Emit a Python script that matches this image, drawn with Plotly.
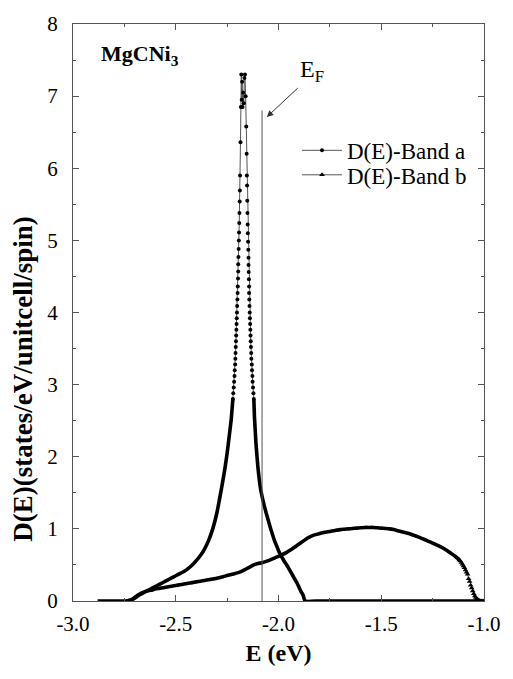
import plotly.graph_objects as go

# Density of states of the two Ni-derived bands of MgCNi3 (energies in eV)
band_a_E = [
    -2.88, -2.86, -2.84, -2.82, -2.80, -2.78, -2.76, -2.74, -2.72, -2.70,
    -2.68, -2.66, -2.64, -2.62, -2.60, -2.58, -2.56, -2.54, -2.52, -2.50,
    -2.48, -2.46, -2.44, -2.42, -2.40, -2.38, -2.36, -2.34, -2.32, -2.30,
    -2.28, -2.27, -2.26, -2.25, -2.24, -2.235, -2.23, -2.226,
    # rising edge of the van Hove peak
    -2.222, -2.220, -2.218, -2.216, -2.214, -2.213, -2.211, -2.210, -2.209,
    -2.208, -2.207, -2.206, -2.205, -2.204, -2.203, -2.202, -2.201, -2.200,
    -2.199, -2.198, -2.197, -2.196, -2.196, -2.195, -2.194, -2.193, -2.192,
    -2.191, -2.190, -2.189, -2.188, -2.187, -2.185, -2.183, -2.181,
    # top of the peak
    -2.179, -2.177, -2.175, -2.172, -2.169, -2.166, -2.163,
    # falling edge of the peak
    -2.160, -2.157, -2.155, -2.154, -2.153, -2.152, -2.151, -2.150, -2.149,
    -2.148, -2.147, -2.146, -2.146, -2.145, -2.144, -2.143, -2.143, -2.142,
    -2.141, -2.140, -2.139, -2.138, -2.137, -2.136, -2.135, -2.134, -2.133,
    -2.132, -2.130, -2.129, -2.127, -2.126, -2.124, -2.122, -2.120,
    # upper tail
    -2.117, -2.113, -2.11, -2.105, -2.10, -2.095, -2.09, -2.08, -2.07,
    -2.06, -2.05, -2.04, -2.03, -2.02, -2.01, -2.00, -1.99, -1.98, -1.97,
    -1.96, -1.95, -1.94, -1.93, -1.92, -1.91, -1.90, -1.89, -1.88, -1.87,
    -1.80, -1.70, -1.60, -1.50, -1.40, -1.30, -1.20, -1.10, -1.00,
]
band_a_D = [
    0.00, 0.00, 0.00, 0.00, 0.00, 0.00, 0.00, 0.00, 0.01, 0.04,
    0.08, 0.11, 0.14, 0.17, 0.20, 0.23, 0.26, 0.29, 0.32, 0.35,
    0.38, 0.41, 0.45, 0.50, 0.56, 0.63, 0.72, 0.84, 1.00, 1.22,
    1.52, 1.68, 1.85, 2.05, 2.28, 2.40, 2.52, 2.66,
    2.80, 2.88, 2.96, 3.04, 3.12, 3.20, 3.28, 3.36, 3.44,
    3.52, 3.60, 3.68, 3.76, 3.84, 3.92, 4.00, 4.09, 4.18,
    4.27, 4.36, 4.47, 4.57, 4.67, 4.77, 4.88, 5.00, 5.11,
    5.24, 5.38, 5.54, 5.69, 5.90, 6.36, 6.85, 7.30,
    6.95, 7.20, 6.85, 7.05, 6.90, 7.25, 7.30,
    7.00, 6.58, 6.20, 5.90, 5.76, 5.55, 5.38, 5.22, 5.10,
    4.98, 4.87, 4.76, 4.66, 4.56, 4.46, 4.36, 4.27, 4.18,
    4.09, 4.00, 3.92, 3.84, 3.76, 3.68, 3.60, 3.52, 3.44,
    3.36, 3.28, 3.20, 3.12, 3.04, 2.96, 2.88, 2.80,
    2.55, 2.35, 2.20, 2.02, 1.85, 1.72, 1.60, 1.45, 1.33,
    1.22, 1.12, 1.02, 0.93, 0.84, 0.77, 0.70, 0.64, 0.59, 0.54,
    0.50, 0.45, 0.40, 0.35, 0.30, 0.25, 0.19, 0.13, 0.08, 0.00,
    0.00, 0.00, 0.00, 0.00, 0.00, 0.00, 0.00, 0.00, 0.00,
]

band_b_E = [
    -2.74, -2.72, -2.70, -2.68, -2.66, -2.64, -2.62, -2.60, -2.58, -2.56,
    -2.54, -2.52, -2.50, -2.48, -2.46, -2.44, -2.42, -2.40, -2.38, -2.36,
    -2.34, -2.32, -2.30, -2.28, -2.26, -2.24, -2.22, -2.20, -2.18, -2.16,
    -2.14, -2.12, -2.10, -2.08, -2.06, -2.04, -2.02, -2.00, -1.98, -1.96,
    -1.94, -1.92, -1.90, -1.88, -1.86, -1.84, -1.82, -1.80, -1.78, -1.76,
    -1.74, -1.72, -1.70, -1.68, -1.66, -1.64, -1.62, -1.60, -1.58, -1.56,
    -1.54, -1.52, -1.50, -1.48, -1.46, -1.44, -1.42, -1.40, -1.38, -1.36,
    -1.34, -1.32, -1.30, -1.28, -1.26, -1.24, -1.22, -1.20, -1.18, -1.16,
    -1.14, -1.12, -1.115, -1.11, -1.105, -1.10, -1.095, -1.09, -1.085,
    -1.08, -1.075, -1.07, -1.065, -1.06, -1.055, -1.05, -1.045, -1.04,
    -1.035, -1.03, -1.025, -1.02, -1.01, -1.00,
]
band_b_D = [
    0.00, 0.01, 0.05, 0.09, 0.12, 0.14, 0.15, 0.165, 0.175, 0.185,
    0.195, 0.205, 0.215, 0.225, 0.235, 0.245, 0.255, 0.265, 0.275, 0.285,
    0.295, 0.305, 0.315, 0.33, 0.345, 0.36, 0.375, 0.39, 0.41, 0.44,
    0.47, 0.50, 0.52, 0.53, 0.55, 0.57, 0.595, 0.62, 0.645, 0.675,
    0.71, 0.75, 0.79, 0.83, 0.87, 0.90, 0.92, 0.935, 0.95, 0.96,
    0.97, 0.98, 0.99, 0.995, 1.00, 1.005, 1.01, 1.015, 1.02, 1.02,
    1.02, 1.015, 1.01, 1.005, 1.00, 0.99, 0.975, 0.96, 0.945, 0.93,
    0.91, 0.89, 0.865, 0.84, 0.815, 0.79, 0.765, 0.735, 0.70, 0.66,
    0.62, 0.57, 0.555, 0.535, 0.51, 0.485, 0.46, 0.43, 0.40,
    0.37, 0.31, 0.27, 0.22, 0.18, 0.14, 0.10, 0.07, 0.05,
    0.03, 0.02, 0.01, 0.005, 0.00, 0.00,
]

fermi_energy = -2.08
fermi_line_top = 6.8

x_tick_vals = [-3.0, -2.5, -2.0, -1.5, -1.0]
x_tick_text = ["-3.0", "-2.5", "-2.0", "-1.5", "-1.0"]
y_tick_vals = [0, 1, 2, 3, 4, 5, 6, 7, 8]

# Where the sampled points are sparse enough to show individually
band_a_sparse = (-2.222, -2.120)
band_b_sparse = (-1.12, -1.00)

serif = "Liberation Serif, Times New Roman, serif"


def split(E, D, lo, hi):
    """Dense part (drawn as a heavy curve) and sparse part (dots on a thin line)."""
    dense_y = [d if not (lo < e < hi) else None for e, d in zip(E, D)]
    sx = [e for e in E if lo <= e <= hi]
    sy = [d for e, d in zip(E, D) if lo <= e <= hi]
    return dense_y, sx, sy


a_dense, a_sx, a_sy = split(band_a_E, band_a_D, *band_a_sparse)
b_dense, b_sx, b_sy = split(band_b_E, band_b_D, *band_b_sparse)

heavy = dict(color="black", width=3.6, shape="spline", smoothing=0.5)

fig = go.Figure()
fig.add_trace(go.Scatter(
    x=band_a_E, y=a_dense, mode="lines", connectgaps=False, showlegend=False,
    legendgroup="a", line=heavy, hoverinfo="skip",
))
fig.add_trace(go.Scatter(
    x=a_sx, y=a_sy, mode="lines+markers", name="D(E)-Band a", legendgroup="a",
    legend="legend",
    line=dict(color="#555555", width=1),
    marker=dict(symbol="circle", size=4, color="black"),
))
fig.add_trace(go.Scatter(
    x=band_b_E, y=b_dense, mode="lines", connectgaps=False, showlegend=False,
    legendgroup="b", line=heavy, hoverinfo="skip",
))
fig.add_trace(go.Scatter(
    x=b_sx, y=b_sy, mode="lines+markers", name="D(E)-Band b", legendgroup="b",
    legend="legend2",
    line=dict(color="#555555", width=1),
    marker=dict(symbol="triangle-up", size=5, color="black"),
))

# Fermi level
fig.add_shape(type="line", x0=fermi_energy, x1=fermi_energy, y0=0, y1=fermi_line_top,
              xref="x", yref="y", line=dict(color="#555555", width=1))
fig.add_annotation(x=fermi_energy + 0.023, y=fermi_line_top - 0.09, xref="x", yref="y",
                   ax=31, ay=-29, text="E<sub>F</sub>", showarrow=True,
                   arrowhead=2, arrowsize=1.3, arrowwidth=1, arrowcolor="#333333",
                   font=dict(family=serif, size=24, color="black"),
                   xanchor="left", yanchor="bottom")

fig.add_annotation(x=0.063, y=0.947, xref="paper", yref="paper", showarrow=False,
                   text="<b>MgCNi<sub>3</sub></b>", xanchor="left", yanchor="middle",
                   font=dict(family=serif, size=22, color="black"))

# y-axis title
fig.add_annotation(x=-0.121, y=0.384, xref="paper", yref="paper", showarrow=False,
                   text="<b>D(E)(states/eV/unitcell/spin)</b>", textangle=-90,
                   xanchor="center", yanchor="middle",
                   font=dict(family=serif, size=27, color="black"))

axis_common = dict(
    showgrid=False, zeroline=False, showline=True, linecolor="#555555", linewidth=1,
    mirror="allticks", ticks="inside", ticklen=6, tickcolor="#555555",
    tickfont=dict(family=serif, size=21, color="black"),
)

fig.update_xaxes(
    range=[-3.0, -1.0], tickvals=x_tick_vals, ticktext=x_tick_text,
    minor=dict(dtick=0.25, ticks="inside", ticklen=3, tickcolor="#555555"),
    ticklabelstandoff=4,
    title=dict(text="<b>E (eV)</b>", font=dict(family=serif, size=24, color="black"),
               standoff=8),
    **axis_common,
)
fig.update_yaxes(
    range=[0, 8], tickvals=y_tick_vals,
    minor=dict(dtick=0.5, ticks="inside", ticklen=3, tickcolor="#555555"),
    ticklabelstandoff=10,
    **axis_common,
)

legend_style = dict(xanchor="left", yanchor="middle", bgcolor="rgba(0,0,0,0)",
                    font=dict(family=serif, size=23, color="black"), itemwidth=40)

fig.update_layout(
    width=513, height=679,
    margin=dict(l=73, r=18, t=12, b=78),
    paper_bgcolor="white", plot_bgcolor="white",
    showlegend=True,
    legend=dict(x=0.545, y=(601 - 141) / 589, **legend_style),
    legend2=dict(x=0.545, y=(601 - 166) / 589, **legend_style),
    font=dict(family=serif),
)

fig.write_html("out.html")
